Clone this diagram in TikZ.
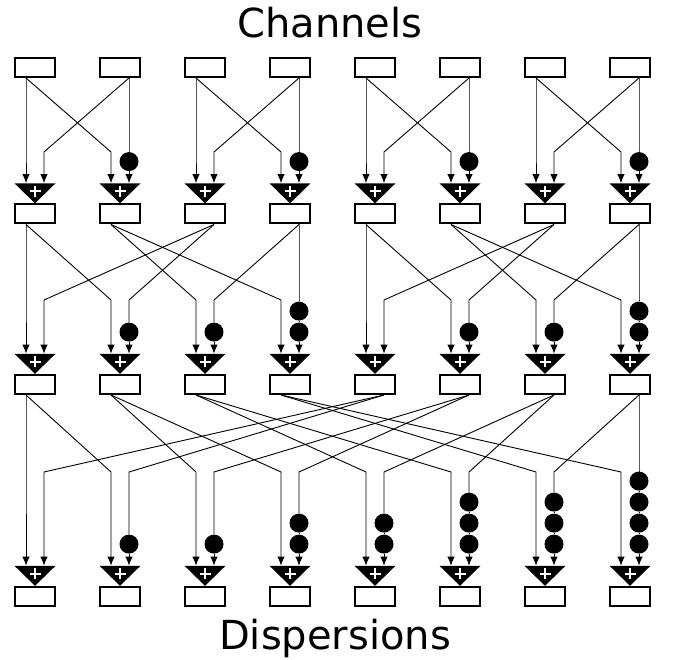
\documentclass[tikz,border=0pt]{standalone}
\usepackage{fontspec}
\setmainfont{DejaVu Sans}
\usepackage{tikz}
\usetikzlibrary{arrows.meta, positioning}

\begin{document}
\begin{tikzpicture}[x=1pt, y=-1pt]
    % Styles
    \tikzstyle{cell} = [rectangle, draw, line width=2pt, minimum width=40pt,
        minimum height=19pt, inner sep=0pt]
    \tikzstyle{adder} = [rectangle, minimum width=41pt, minimum height=20pt,
        inner sep=0pt, path picture={
            \fill (path picture bounding box.north west)
                -- (path picture bounding box.north east)
                -- (path picture bounding box.south) -- cycle;
            \draw[white, line width=1.8pt]
                ([xshift=-5.5pt, yshift=-8pt]path picture bounding box.north)
                -- ([xshift=5.5pt, yshift=-8pt]path picture bounding box.north)
                ([yshift=-2.5pt]path picture bounding box.north)
                -- ([yshift=-13.5pt]path picture bounding box.north);}]
    \tikzstyle{delay} = [circle, fill, minimum size=19pt, inner sep=0pt]
    \tikzstyle{wire} = [line width=0.9pt]
    \tikzstyle{arrow} = [wire, -{Latex[length=9pt, width=7.5pt]}]
    \tikzstyle{title} = [font=\fontsize{40}{48}\selectfont, anchor=base]

    \useasboundingbox (0,0) rectangle (681,660);

    % Labels
    \node [title] (chan) at (330,38) {Channels};
    \node [title] (disp) at (335,649) {Dispersions};

    % Cells and adders
    \foreach \r/\y in {1/67.5, 2/214, 3/384.5, 4/596.5}
        \foreach \i in {0,...,7} {
            \node [cell] (b\r-\i) at (35+85*\i, \y) {};
            \coordinate (b\r-\i-l) at ([xshift=-9pt]b\r-\i.south);
            \coordinate (b\r-\i-r) at ([xshift=9pt]b\r-\i.south);
            \ifnum\r>1
                \node [adder, above=0pt of b\r-\i] (a\r-\i) {};
                \coordinate (a\r-\i-l) at ([xshift=-9pt]a\r-\i.north);
                \coordinate (a\r-\i-r) at ([xshift=9pt]a\r-\i.north);
            \fi
        }

    % Stages
    \foreach \s/\h/\yb in {1/1/152, 2/2/300, 3/4/472} {
        \coordinate (bend\s) at (0,\yb);
        \pgfmathtruncatemacro\t{\s+1}
        \foreach \j in {0,...,7} {
            \pgfmathtruncatemacro\m{2*\h*int(\j/(2*\h))}
            \pgfmathtruncatemacro\d{int((\j-\m)/2)}
            \pgfmathtruncatemacro\k{\j-\m-\d}
            \pgfmathtruncatemacro\A{\m+\d}
            \pgfmathtruncatemacro\B{\m+\h+\d}
            % from first half
            \draw [arrow] (b\s-\A-l) -- (a\t-\j-l |- bend\s) -- (a\t-\j-l);
            % from second half, through the delays
            \ifnum\k=0
                \draw [arrow] (b\s-\B-r) -- (a\t-\j-r |- bend\s) -- (a\t-\j-r);
            \else
                \foreach \n in {1,...,\k} {
                    \pgfmathsetmacro\dy{21.5+21*(\n-1)}
                    \node [delay] (k\t-\j-\n) at ([yshift=\dy pt]a\t-\j-r) {};
                    \ifnum\n>1
                        \pgfmathtruncatemacro\p{\n-1}
                        \draw [wire] (k\t-\j-\p) -- (k\t-\j-\n);
                    \fi
                }
                \draw [wire] (b\s-\B-r) -- (a\t-\j-r |- bend\s) -- (k\t-\j-\k);
                \draw [arrow] (k\t-\j-1) -- (a\t-\j-r);
            \fi
        }
    }
\end{tikzpicture}
\end{document}
